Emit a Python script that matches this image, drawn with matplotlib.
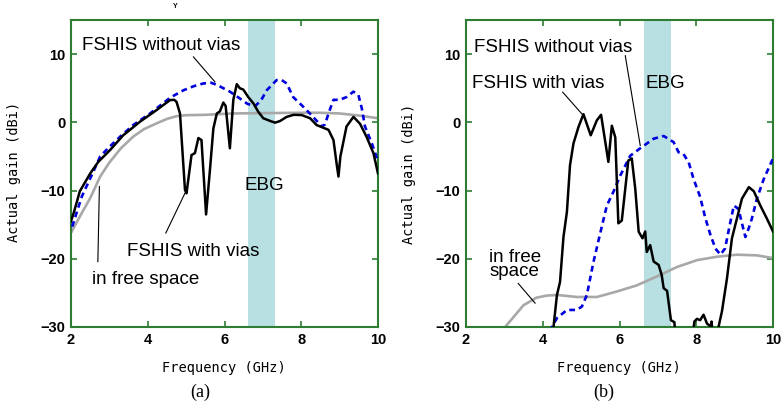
import matplotlib
matplotlib.use("Agg")
import matplotlib.pyplot as plt

# ---------------- data ----------------
# panel (a)
a_vias_x = [2.0, 2.08, 2.23, 2.5, 2.71, 3.02, 3.36, 3.8, 4.23, 4.58, 4.69, 4.75, 4.84, 4.97, 5.01, 5.14,
            5.23, 5.32, 5.4, 5.52, 5.62, 5.71, 5.8, 5.88, 5.97, 6.03, 6.14, 6.23, 6.32, 6.4, 6.49,
            6.62, 6.75, 6.88, 7.01, 7.19, 7.32, 7.45, 7.62, 7.8, 8.01, 8.23, 8.4, 8.71, 8.84, 8.92,
            8.97, 9.02, 9.18, 9.36, 9.53, 9.7, 9.88, 10.0]
a_vias_y = [-14.5, -13.1, -10.1, -7.5, -5.8, -4.05, -1.9, 0.1, 1.8, 3.26, 3.3, 3.0, 1.3, -9.9, -10.4, -4.8,
            -4.5, -2.3, -2.6, -13.5, -7.0, -0.9, 1.3, 1.6, 2.9, 2.4, -3.8, 3.3, 5.6, 5.0, 4.8,
            3.7, 2.8, 1.55, 0.6, 0.2, -0.05, 0.2, 0.8, 1.1, 1.07, 0.6, -0.4, -1.1, -2.6, -6.0,
            -7.95, -5.0, -0.6, 0.8, -0.2, -2.1, -4.5, -7.5]

a_novias_x = [2.03, 2.28, 2.56, 2.76, 3.0, 3.28, 3.62, 4.06, 4.58, 4.93, 5.2, 5.45, 5.65, 5.8, 6.14,
              6.4, 6.6, 6.8, 6.95, 7.1, 7.36, 7.49, 7.62, 7.79, 8.05, 8.31, 8.53, 8.62, 8.71, 8.84,
              9.0, 9.18, 9.36, 9.49, 9.58, 9.66, 9.84, 10.0]
a_novias_y = [-15.3, -10.9, -7.5, -5.0, -3.6, -2.1, -0.4, 1.3, 3.6, 4.7, 5.3, 5.7, 5.8, 5.5, 4.5,
              3.5, 2.7, 2.4, 3.2, 4.7, 6.2, 6.2, 5.7, 3.7, 2.3, 0.8, -0.6, -0.3, 1.3, 3.3,
              3.3, 3.7, 4.5, 4.0, 2.0, -0.6, -3.1, -5.7]

a_free_x = [2.0, 2.23, 2.5, 2.76, 3.0, 3.3, 3.62, 3.9, 4.23, 4.5, 4.75, 5.0, 5.5, 6.2, 7.0, 8.0,
            8.5, 9.0, 9.5, 10.0]
a_free_y = [-16.2, -13.8, -11.1, -7.95, -5.9, -3.8, -2.1, -1.0, -0.15, 0.5, 0.9, 1.05, 1.1, 1.3,
            1.35, 1.4, 1.4, 1.3, 1.0, 0.6]

# panel (b)
b_vias_x = [2.0, 4.2, 4.28, 4.37, 4.45, 4.54, 4.63, 4.71, 4.8, 4.93, 5.06, 5.25, 5.41, 5.52, 5.71,
            5.8, 5.89, 5.97, 6.06, 6.23, 6.32, 6.41, 6.5, 6.6, 6.67, 6.71, 6.8, 6.89, 7.02, 7.1,
            7.15, 7.24, 7.34, 7.43, 7.48, 7.88, 7.95, 8.02, 8.1, 8.19, 8.28, 8.37, 8.4, 8.45,
            8.54, 8.58, 8.67, 8.8, 8.93, 9.06, 9.19, 9.37, 9.5, 9.67, 9.84, 10.0]
b_vias_y = [-33, -33, -30, -25.3, -23.4, -16.8, -13.1, -6.3, -3.1, -0.7, 1.2, -1.9, 0.3, 1.1, -5.8,
            -0.5, -2.2, -14.8, -14.4, -5.6, -5.3, -9.7, -16.05, -17, -16, -19, -18, -20.4, -20.9, -22.4,
            -24.3, -24.7, -29, -29.3, -33, -33, -29.2, -28.8, -29.0, -28.2, -29.5, -29.9, -29.2, -33,
            -33, -30, -27.7, -22.9, -17, -14.1, -11.2, -9.5, -10.1, -12.2, -14.1, -16]

b_novias_x = [2.0, 4.2, 4.24, 4.37, 4.63, 4.89, 5.02, 5.15, 5.32, 5.5, 5.67, 5.84, 6.02, 6.28, 6.54,
              6.89, 7.15, 7.41, 7.54, 7.66, 7.8, 7.93, 8.1, 8.24, 8.37, 8.5, 8.63, 8.75, 8.89, 8.98,
              9.1, 9.2, 9.28, 9.37, 9.45, 9.58, 9.76, 10.0]
b_novias_y = [-33, -33, -30, -28.7, -27.5, -27.5, -27, -25.3, -20.5, -16.2, -12.2, -10.2, -7.8, -4.9, -3.8,
              -2.4, -2.0, -2.9, -4.4, -4.6, -5.8, -8.3, -10.9, -14.1, -16.5, -18.5, -19.4, -18.5, -14.6, -12.2,
              -12.7, -15.0, -16.8, -15.5, -14.1, -11.2, -8.3, -5.3]

b_free_x = [2.0, 2.5, 3.02, 3.5, 3.84, 4.1, 4.37, 4.89, 5.41, 5.93, 6.45, 6.97, 7.5, 8.02, 8.54,
            9.06, 9.58, 10.0]
b_free_y = [-36, -33, -30, -26.8, -25.7, -25.4, -25.3, -25.6, -25.6, -24.8, -23.9, -22.6, -21.2,
            -20.2, -19.7, -19.4, -19.5, -19.9]

ebg_a = (6.62, 7.32)
ebg_b = (6.64, 7.34)
xticks = [2, 4, 6, 8, 10]
yticks = [-30, -20, -10, 0, 10]

# ---------------- style ----------------
GREEN = '#2e7d32'
BAND = '#b8dfe2'
GRAY = '#a8a8a8'
BLUE = '#0000dd'
TXT = dict(family='Liberation Sans', fontsize=13.5)

fig = plt.figure(figsize=(7.83, 4.03), dpi=100)
W, H = 783, 403

def make_ax(left_px):
    ax = fig.add_axes([left_px / W, 1 - 327 / H, 307 / W, 307 / H])
    ax.set_xlim(2, 10)
    ax.set_ylim(-30, 15)
    ax.set_xticks(xticks)
    ax.set_yticks(yticks)
    for s in ax.spines.values():
        s.set_color(GREEN)
        s.set_linewidth(1.5)
    ax.tick_params(direction='in', length=4, width=1.2, color=GREEN, top=True, right=True,
                   labelsize=10.5, pad=4)
    for lab in ax.get_xticklabels() + ax.get_yticklabels():
        lab.set_family('Liberation Sans')
        lab.set_fontweight('bold')
    return ax

def draw(ax, band, vx, vy, nx, ny, fx, fy):
    ax.axvspan(band[0], band[1], color=BAND, lw=0, zorder=0)
    ax.plot(fx, fy, color=GRAY, lw=1.9, zorder=2)
    ax.plot(nx, ny, color=BLUE, lw=1.9, ls=(0, (2.2, 1.6)), zorder=3)
    ax.plot(vx, vy, color='black', lw=1.8, zorder=4)

axa = make_ax(71)
draw(axa, ebg_a, a_vias_x, a_vias_y, a_novias_x, a_novias_y, a_free_x, a_free_y)
axb = make_ax(466)
draw(axb, ebg_b, b_vias_x, b_vias_y, b_novias_x, b_novias_y, b_free_x, b_free_y)

# annotations (a)
axa.text(2.29, 10.65, 'FSHIS without vias', ha='left', va='baseline', zorder=6, **TXT)
axa.plot([5.19, 5.75], [9.59, 5.94], color='black', lw=0.8, zorder=5)
axa.text(6.53, -9.97, 'EBG', ha='left', va='baseline', zorder=6, **TXT)
axa.text(3.45, -19.63, 'FSHIS with vias', ha='left', va='baseline', zorder=6, **TXT)
axa.plot([4.47, 4.97], [-16.23, -10.38], color='black', lw=0.8, zorder=5)
axa.text(2.55, -23.64, 'in free space', ha='left', va='baseline', zorder=6, **TXT)
axa.plot([2.70, 2.74], [-20.42, -9.42], color='black', lw=0.8, zorder=5)

# annotations (b)
axb.text(2.21, 10.26, 'FSHIS without vias', ha='left', va='baseline', zorder=6, **TXT)
axb.plot([6.15, 6.54], [9.77, -3.39], color='black', lw=0.8, zorder=5)
axb.text(2.15, 5.0, 'FSHIS with vias', ha='left', va='baseline', zorder=6, **TXT)
axb.plot([4.52, 5.02], [4.42, 1.24], color='black', lw=0.8, zorder=5)
axb.text(6.67, 5.0, 'EBG', ha='left', va='baseline', zorder=6, **TXT)
axb.text(2.6, -22.55, 'in free\nspace', ha='left', va='baseline', linespacing=0.8,
         multialignment='left', zorder=6, **TXT)
axb.plot([3.36, 3.8], [-23.61, -26.5], color='black', lw=0.8, zorder=5)

# axis labels
LBL = dict(family='DejaVu Sans Mono', fontsize=9.8)
fig.text(224 / W, 1 - 368 / H, 'Frequency (GHz)', ha='center', va='center', **LBL)
fig.text(619 / W, 1 - 368 / H, 'Frequency (GHz)', ha='center', va='center', **LBL)
fig.text(14 / W, 1 - 172 / H, 'Actual gain (dBi)', ha='center', va='center', rotation=90, **LBL)
fig.text(409 / W, 1 - 174 / H, 'Actual gain (dBi)', ha='center', va='center', rotation=90, **LBL)

# sub captions
fig.text(200 / W, 1 - 392 / H, '(a)', ha='center', va='center', family='Liberation Serif', fontsize=13)
fig.text(604 / W, 1 - 392 / H, '(b)', ha='center', va='center', family='Liberation Serif', fontsize=13)
fig.text(175 / W, 1 - 7 / H, 'Y', ha='center', va='center', family='Liberation Sans', fontsize=5,
         fontweight='bold')

fig.savefig('out.png', dpi=100)
